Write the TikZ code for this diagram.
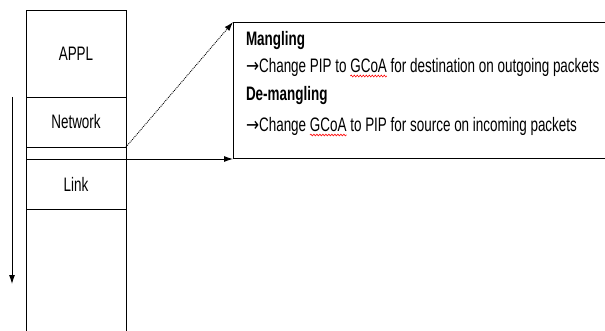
\documentclass[tikz,border=0pt]{standalone}
\usepackage{fontspec}
\setmainfont[FakeStretch=0.69]{Liberation Sans}
\newfontfamily\arrowfont[FakeStretch=0.8]{DejaVu Sans}
\usetikzlibrary{arrows.meta,positioning,decorations.pathmorphing}
\newcommand{\toarrow}{{\arrowfont →}}
\tikzstyle{layer} = [rectangle, draw, minimum width=100pt, text centered, inner sep=0pt, outer sep=0pt]
\tikzstyle{line} = [draw, -{Latex[length=9pt,width=6pt]}]
\tikzstyle{txt} = [anchor=base west, inner sep=0pt, outer sep=0pt]
\tikzstyle{squiggle} = [draw=red, line width=0.6pt, decorate, decoration={snake, amplitude=0.9pt, segment length=3pt}]

\begin{document}
\begin{tikzpicture}[x=1pt, y=-1pt, font=\fontsize{19.5}{22}\selectfont, line width=0.9pt]
\useasboundingbox (0,0) rectangle (605,331);
\clip (0,0) rectangle (605,331);
% protocol stack
\node[layer, minimum height=87pt, anchor=north west] (APPL) at (26,10) {APPL};
\node[layer, minimum height=50pt, below=0pt of APPL] (Network) {Network};
\node[layer, minimum height=12pt, below=0pt of Network] (Gap) {};
\node[layer, minimum height=50pt, below=0pt of Gap] (Link) {Link};
\node[layer, minimum height=140pt, below=0pt of Link] (Phy) {};
% direction of the stack
\coordinate (DownTop) at (12,97);
\coordinate (DownEnd) at (12,284);
\path (DownTop) edge[line] (DownEnd);
%Mangling box:
\node[draw, anchor=south west, minimum width=400pt, minimum height=136pt] (Box) at ([xshift=107pt]Link.north east) {};
\node[txt] (M_t) at (246,46) {\textbf{Mangling}};
\node[txt] (M_a) at (246,73) {\toarrow Change PIP to\ \null};
\node[txt] (M_g) at (M_a.base east) {GCoA};
\node[txt] (M_b) at (M_g.base east) {\ for destination on outgoing packets};
\node[txt] (DM_t) at (246,101) {\textbf{De-mangling}};
\node[txt] (DM_a) at (246,132) {\toarrow Change\ \null};
\node[txt] (DM_g) at (DM_a.base east) {GCoA};
\node[txt] (DM_b) at (DM_g.base east) {\ to PIP for source on incoming packets};
\draw[squiggle] ([yshift=-3pt]M_g.base west) -- ([yshift=-3pt]M_g.base east);
\draw[squiggle] ([yshift=-3pt]DM_g.base west) -- ([yshift=-3pt]DM_g.base east);
\path (Network.south east) edge[line, densely dotted] (Box.north west);
\path (Link.north east) edge[line] (Box.south west);
\end{tikzpicture}
\end{document}
